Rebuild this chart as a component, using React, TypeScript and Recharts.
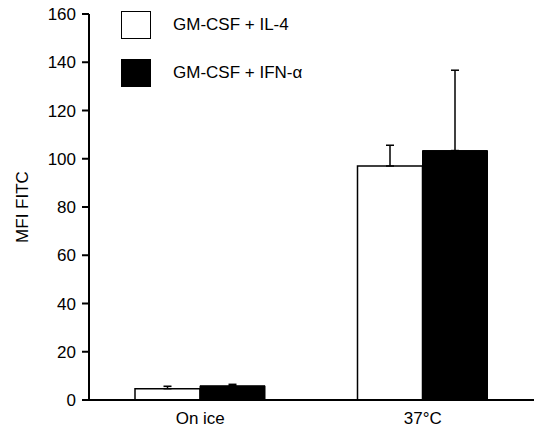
import { BarChart, Bar, XAxis, YAxis, ErrorBar, Legend } from "recharts";

const categories = ["On ice", "37°C"];
const il4Values = [4.7, 97.0];
const il4Errors = [1.0, 8.6];
const ifnValues = [5.9, 103.4];
const ifnErrors = [0.6, 33.3];
const yTicks = [0, 20, 40, 60, 80, 100, 120, 140, 160];

const seriesNames = ["GM-CSF + IL-4", "GM-CSF + IFN-\u03b1"];

const data = categories.map((name, i) => ({
  name,
  il4: il4Values[i],
  il4Err: [0, il4Errors[i]],
  ifn: ifnValues[i],
  ifnErr: [0, ifnErrors[i]],
}));

const font = "'Liberation Sans', Arial, Helvetica, sans-serif";

function ChartLegend() {
  const item = (fill: string, label: string) => (
    <div style={{ display: "flex", alignItems: "center", height: 48 }}>
      <div
        style={{
          width: 28,
          height: 26,
          background: fill,
          border: "1.5px solid #000",
          marginRight: 22,
        }}
      />
      <span style={{ fontSize: 17, color: "#000" }}>{label}</span>
    </div>
  );
  return (
    <div style={{ fontFamily: font }}>
      {item("#fff", seriesNames[0])}
      {item("#000", seriesNames[1])}
    </div>
  );
}

export default function App() {
  return (
    <div style={{ position: "absolute", left: 0, top: 0, background: "#fff" }}>
      <BarChart
        width={536}
        height={432}
        data={data}
        margin={{ top: 14, right: 2, left: 0, bottom: 0 }}
        barGap={0}
        barSize={65}
        style={{ fontFamily: font }}
      >
        <XAxis
          dataKey="name"
          height={32}
          tickSize={0}
          tickMargin={12}
          axisLine={{ stroke: "#000", strokeWidth: 2 }}
          tick={{ fill: "#000", fontSize: 17 }}
        />
        <YAxis
          width={89}
          domain={[0, 160]}
          ticks={yTicks}
          interval={0}
          tickSize={7}
          tickMargin={6}
          axisLine={{ stroke: "#000", strokeWidth: 2 }}
          tickLine={{ stroke: "#000", strokeWidth: 2 }}
          tick={{ fill: "#000", fontSize: 17 }}
          label={{
            value: "MFI FITC",
            angle: -90,
            position: "insideLeft",
            offset: 22,
            style: { textAnchor: "middle", fill: "#000", fontSize: 17 },
          }}
        />
        <Legend
          layout="vertical"
          align="center"
          verticalAlign="middle"
          content={() => <ChartLegend />}
          wrapperStyle={{ top: 1, left: 121, width: 280 }}
        />
        <Bar dataKey="il4" fill="#fff" stroke="#000" strokeWidth={1.5} isAnimationActive={false}>
          <ErrorBar dataKey="il4Err" width={4} stroke="#000" strokeWidth={1.5} isAnimationActive={false} />
        </Bar>
        <Bar dataKey="ifn" fill="#000" stroke="#000" strokeWidth={1} isAnimationActive={false}>
          <ErrorBar dataKey="ifnErr" width={4} stroke="#000" strokeWidth={1.5} isAnimationActive={false} />
        </Bar>
      </BarChart>
    </div>
  );
}
